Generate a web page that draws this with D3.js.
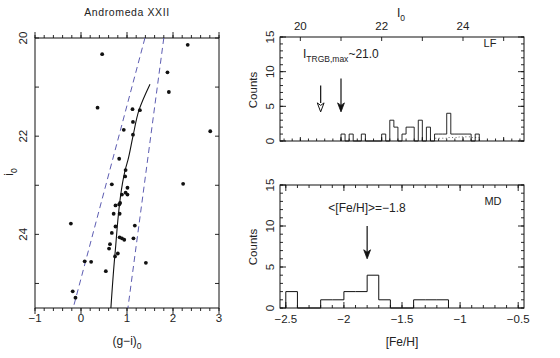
<!DOCTYPE html>
<html><head><meta charset="utf-8">
<script src="https://cdn.jsdelivr.net/npm/d3@7"></script>
<style>
body{margin:0;background:#fff;}
svg{display:block;font-family:"Liberation Sans",Arial,Helvetica,sans-serif;}
</style></head><body>
<svg id="c" width="560" height="358"></svg>
<script>
// ---------- DATA ----------
// CMD stars: (g-i)0 and i0
const cmdColor = [2.32,0.46,1.88,1.91,0.36,1.12,1.28,1.13,0.93,1.13,2.81,0.83,0.97,0.96,
  0.67,2.22,1.01,0.89,0.97,1.01,0.85,0.83,0.75,0.71,0.84,-0.22,0.75,1.17,0.67,0.84,0.89,0.94,1.14,
  0.63,0.61,0.80,0.74,0.08,0.22,1.41,0.54,-0.18,-0.12];
const cmdMag = [20.14,20.33,20.70,21.10,21.42,21.45,21.47,21.71,21.87,21.97,21.90,22.46,22.69,22.82,
  22.98,22.97,23.05,23.19,23.15,23.19,23.36,23.39,23.41,23.58,23.58,23.78,23.84,23.82,23.97,24.06,24.08,24.11,24.08,
  24.20,24.29,24.39,24.45,24.55,24.56,24.58,24.75,25.16,25.29];
// RGB fiducial
const ridgeColor = [1.50,1.26,1.13,1.02,0.96,0.74,0.65];
const ridgeMag   = [20.94,21.47,22.0,22.49,22.69,24.39,25.5];
// selection box (dashed)
const boxLeftColor  = [1.39,-0.17];
const boxRightColor = [1.80,1.02];
const boxMag        = [20.0,25.5];
// LF histogram (bin start, 0.1 mag bins)
const lfBinWidth = 0.1;
const lfBins   = [21.0,21.2,21.5,22.0,22.2,22.3,22.5,22.6,22.7,22.9,23.1,23.3,23.4,23.5,23.6,23.7,23.8,23.9,24.0,24.1,24.3];
const lfCounts = [1,1,1,1,3,2,1,2,2,3,2,1,1,1,4,1,1,1,1,1,1];
// LF background (dotted)
const bgBins   = [23.3,23.4,23.5,23.6,23.7,23.8,23.9,24.0,24.1,24.2,24.3];
const bgCounts = [0.4,0.4,0.4,0.5,0.5,0.5,0.6,0.6,0.6,0.5,0.5];
// MD histogram (bin start, 0.1 dex bins)
const mdBinWidth = 0.1;
const mdBins   = [-2.5,-2.2,-2.1,-2.0,-1.9,-1.8,-1.7,-1.4,-1.3,-1.2];
const mdCounts = [2,1,1,2,2,4,1,1,1,1];
// arrows
const trgbHollow = {x:20.5, y0:8.0, y1:4.2};
const trgbFilled = {x:21.0, y0:9.0, y1:4.2};
const mdArrow    = {x:-1.8, y0:10.0, y1:6.0};
// tick labels
const cmdXTicks = [-1,0,1,2,3];
const cmdYTicks = [20,22,24];
const lfTopTicks = [20,22,24];
const countTicks = [0,5,10,15];
const mdXTicks = [-2.5,-2,-1.5,-1,-0.5];

// ---------- DRAW ----------
const svg = d3.select("#c");
const INK = "#111";
const TXT = "#222";
const fmt = d => d3.format("")(d).replace("-", "\u2212");

function frame(x, y){
  const [x0,x1] = x.range(), [y0,y1] = y.range();
  svg.append("rect").attr("x",Math.min(x0,x1)).attr("y",Math.min(y0,y1))
    .attr("width",Math.abs(x1-x0)).attr("height",Math.abs(y1-y0))
    .attr("fill","none").attr("stroke",INK).attr("stroke-width",1);
}
function ticksX(x, y, values, len){
  const [yb, yt] = y.range();
  const g = svg.append("g").attr("stroke",INK).attr("stroke-width",0.9);
  values.forEach(v=>{
    g.append("line").attr("x1",x(v)).attr("x2",x(v)).attr("y1",yb).attr("y2",yb-len);
    g.append("line").attr("x1",x(v)).attr("x2",x(v)).attr("y1",yt).attr("y2",yt+len);
  });
}
function ticksXOne(x, ypos, values, len){
  const g = svg.append("g").attr("stroke",INK).attr("stroke-width",0.9);
  values.forEach(v=>{ g.append("line").attr("x1",x(v)).attr("x2",x(v)).attr("y1",ypos).attr("y2",ypos+len); });
}
function ticksY(x, y, values, len){
  const [xl, xr] = x.range();
  const g = svg.append("g").attr("stroke",INK).attr("stroke-width",0.9);
  values.forEach(v=>{
    g.append("line").attr("y1",y(v)).attr("y2",y(v)).attr("x1",xl).attr("x2",xl+len);
    g.append("line").attr("y1",y(v)).attr("y2",y(v)).attr("x1",xr).attr("x2",xr-len);
  });
}
function rotLabel(txt, cx, cy, size){
  return svg.append("text").attr("transform",`translate(${cx},${cy}) rotate(-90)`)
    .attr("text-anchor","middle").attr("dominant-baseline","central")
    .attr("font-size",size).attr("fill",TXT).text(txt);
}
function text(txt, cx, cy, size, anchor){
  return svg.append("text").attr("x",cx).attr("y",cy).attr("text-anchor",anchor||"middle")
    .attr("font-size",size).attr("fill",TXT).text(txt);
}
function stepPath(bins, counts, w, x, y){
  const pts = [];
  for(let i=0;i<bins.length;i++){
    const a = bins[i], b = a + w, c = counts[i];
    const prevContig = i>0 && Math.abs(bins[i-1]+w - a) < 1e-6;
    if(!prevContig) pts.push([a,0]);
    pts.push([a,c]); pts.push([b,c]);
    const nextContig = i<bins.length-1 && Math.abs(b - bins[i+1]) < 1e-6;
    if(!nextContig) pts.push([b,0]);
  }
  return d3.line().x(d=>x(d[0])).y(d=>y(d[1]))(pts);
}
function arrow(x, y, a, hollow){
  const px = x(a.x), p0 = y(a.y0), p1 = y(a.y1);
  const hl = 9, hw = 3.4;
  svg.append("line").attr("x1",px).attr("x2",px).attr("y1",p0).attr("y2",p1-(hollow?hl:2))
    .attr("stroke",INK).attr("stroke-width",1.2);
  svg.append("path").attr("d",`M${px},${p1} L${px-hw},${p1-hl} L${px},${p1-hl+2.5} L${px+hw},${p1-hl} Z`)
    .attr("fill",hollow?"#fff":INK).attr("stroke",INK).attr("stroke-width",hollow?1:0.8);
}

// ===== CMD panel =====
const cx = d3.scaleLinear().domain([-1,3]).range([35,219]);
const cy = d3.scaleLinear().domain([20,25.5]).range([38,308]);
frame(cx, cy);
ticksX(cx, cy, d3.range(-1,3.001,0.2).map(v=>+v.toFixed(1)), 3);
ticksX(cx, cy, cmdXTicks, 6);
ticksY(cx, cy, [20,21,22,23,24,25], 4);
cmdXTicks.forEach(v=>text(fmt(v), cx(v), 322, 11.5));
cmdYTicks.forEach(v=>rotLabel(String(v), 23, cy(v), 11.5));
text("Andromeda XXII", 127, 16, 10.5).attr("letter-spacing","0.6px");
// i0 label
const il = svg.append("text").attr("transform","translate(13,172) rotate(-90)")
  .attr("text-anchor","middle").attr("font-size",12).attr("fill",TXT);
il.append("tspan").text("i");
il.append("tspan").attr("font-size",8.5).attr("dy",3.5).text("0");
// (g-i)0 label
const gl = svg.append("text").attr("x",127).attr("y",345).attr("text-anchor","middle")
  .attr("font-size",12).attr("fill",TXT);
gl.append("tspan").text("(g\u2212i)");
gl.append("tspan").attr("font-size",8.5).attr("dy",3.5).text("0");
// dashed bounds
const bline = d3.line().x(d=>cx(d[0])).y(d=>cy(d[1]));
[boxLeftColor, boxRightColor].forEach(arr=>{
  svg.append("path").attr("d",bline(arr.map((c,i)=>[c,boxMag[i]])))
    .attr("fill","none").attr("stroke","#4a4aa8").attr("stroke-width",0.9).attr("stroke-dasharray","6,4");
});
// ridge line
svg.append("path").attr("d",d3.line().curve(d3.curveMonotoneY).x(d=>cx(d[0])).y(d=>cy(d[1]))(ridgeColor.map((c,i)=>[c,ridgeMag[i]])))
  .attr("fill","none").attr("stroke",INK).attr("stroke-width",1.1);
// stars
svg.append("g").selectAll("circle").data(cmdColor.map((c,i)=>[c,cmdMag[i]])).join("circle")
  .attr("cx",d=>cx(d[0])).attr("cy",d=>cy(d[1])).attr("r",1.9).attr("fill",INK);

// ===== LF panel =====
const lx = d3.scaleLinear().domain([19.5,25.5]).range([280,524]);
const ly = d3.scaleLinear().domain([0,15]).range([141,37]);
frame(lx, ly);
ticksXOne(lx, 37, [20,21,22,23,24,25], 4);
ticksXOne(lx, 141, d3.range(19.6,25.5,0.2).map(v=>+v.toFixed(1)), -2.5);
ticksXOne(lx, 141, [20,21,22,23,24,25], -4);
ticksY(lx, ly, d3.range(0,16,1), 3);
ticksY(lx, ly, countTicks, 6);
lfTopTicks.forEach(v=>text(String(v), lx(v), 30, 11.5));
countTicks.forEach(v=>rotLabel(String(v), 270, ly(v), 11.5));
rotLabel("Counts", 253, 90, 11.5);
const tl = svg.append("text").attr("x",401).attr("y",17).attr("text-anchor","middle")
  .attr("font-size",12).attr("fill",TXT);
tl.append("tspan").text("I");
tl.append("tspan").attr("font-size",8.5).attr("dy",3.5).text("0");
text("LF", 490, 47, 11, "middle");
svg.append("path").attr("d",stepPath(bgBins,bgCounts,lfBinWidth,lx,ly))
  .attr("fill","none").attr("stroke","#555").attr("stroke-width",0.9).attr("stroke-dasharray","1,2.5");
svg.append("path").attr("d",stepPath(lfBins,lfCounts,lfBinWidth,lx,ly))
  .attr("fill","none").attr("stroke",INK).attr("stroke-width",0.9);
arrow(lx, ly, trgbHollow, true);
arrow(lx, ly, trgbFilled, false);
const tr = svg.append("text").attr("x",303).attr("y",58).attr("font-size",12).attr("fill",TXT);
tr.append("tspan").text("I");
tr.append("tspan").attr("font-size",8.5).attr("dy",4).text("TRGB,max");
tr.append("tspan").attr("dy",-4).text("~21.0");

// ===== MD panel =====
const mx = d3.scaleLinear().domain([-2.55,-0.45]).range([280,524]);
const my = d3.scaleLinear().domain([0,15]).range([308,185]);
frame(mx, my);
ticksX(mx, my, d3.range(-2.5,-0.45,0.1).map(v=>+v.toFixed(1)), 3);
ticksX(mx, my, mdXTicks, 6);
ticksY(mx, my, d3.range(0,16,1), 3);
ticksY(mx, my, countTicks, 6);
mdXTicks.forEach(v=>text(fmt(v), mx(v), 323, 11.5));
countTicks.forEach(v=>rotLabel(String(v), 270, my(v), 11.5));
rotLabel("Counts", 253, 247, 11.5);
text("[Fe/H]", 402, 346, 12);
text("MD", 493, 205, 11);
text("<[Fe/H]>=\u22121.8", 367, 212, 12);
svg.append("path").attr("d",stepPath(mdBins,mdCounts,mdBinWidth,mx,my))
  .attr("fill","none").attr("stroke",INK).attr("stroke-width",1);
arrow(mx, my, mdArrow, false);
</script>
</body></html>
